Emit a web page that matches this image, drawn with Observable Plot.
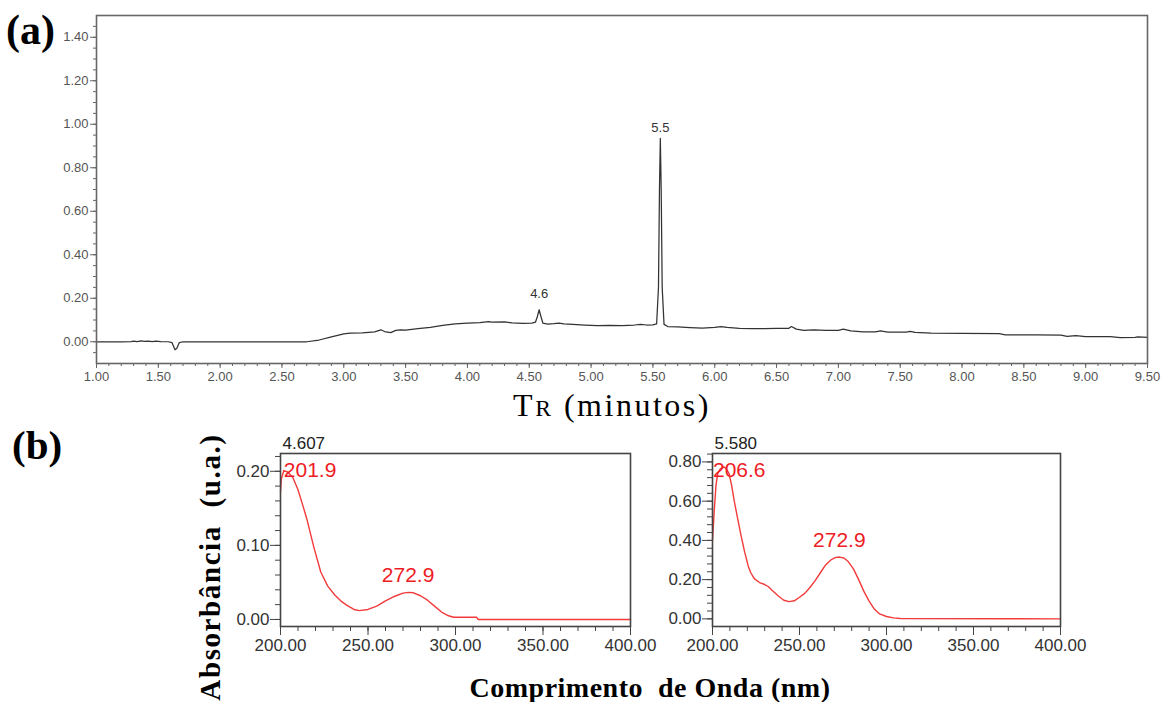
<!DOCTYPE html>
<html>
<head>
<meta charset="utf-8">
<script src="https://cdn.jsdelivr.net/npm/d3@7"></script>
<script src="https://cdn.jsdelivr.net/npm/@observablehq/plot@0.6"></script>
<style>
  body { margin: 0; background: #fff; }
  #root { position: relative; width: 1168px; height: 702px; overflow: hidden; background: #fff; }
  #root > svg, #root > figure { position: absolute; margin: 0; }
  .lbl { position: absolute; white-space: pre; color: #000; line-height: 1; }
  .serifb { font-family: "Liberation Serif", "Times New Roman", serif; font-weight: bold; }
  .serif { font-family: "Liberation Serif", "Times New Roman", serif; }
</style>
</head>
<body>
<div id="root"></div>
<script>
// ---------- Data: chromatogram (a) ----------
const chromTime = [1.00,1.20,1.28,1.30,1.33,1.36,1.39,1.42,1.45,1.48,1.52,1.58,1.61,1.635,1.65,1.67,1.70,2.00,2.40,2.70,2.80,2.90,3.00,3.05,3.15,3.25,3.30,3.33,3.38,3.42,3.46,3.50,3.60,3.70,3.80,3.90,4.00,4.10,4.17,4.20,4.30,4.36,4.45,4.52,4.55,4.565,4.58,4.595,4.61,4.65,4.70,4.74,4.78,4.85,4.95,5.05,5.15,5.25,5.35,5.40,5.45,5.50,5.53,5.545,5.553,5.560,5.567,5.575,5.59,5.62,5.70,5.80,5.90,6.00,6.05,6.10,6.20,6.30,6.40,6.50,6.60,6.62,6.66,6.72,6.80,6.90,7.00,7.04,7.10,7.20,7.30,7.34,7.40,7.55,7.58,7.62,7.75,8.00,8.30,8.35,8.60,8.80,8.85,8.92,9.00,9.20,9.28,9.40,9.42,9.50];
const chromAbs  = [0.000,0.000,0.001,0.003,0.001,0.004,0.002,0.003,0.001,0.003,0.001,0.000,-0.004,-0.037,-0.030,-0.004,0.000,0.000,0.000,0.000,0.008,0.022,0.036,0.040,0.041,0.045,0.055,0.047,0.042,0.052,0.055,0.053,0.060,0.066,0.075,0.082,0.086,0.088,0.093,0.090,0.091,0.087,0.084,0.086,0.090,0.115,0.147,0.115,0.086,0.081,0.083,0.086,0.082,0.080,0.077,0.074,0.075,0.074,0.077,0.080,0.077,0.078,0.082,0.250,0.700,0.935,0.700,0.250,0.080,0.070,0.068,0.065,0.063,0.066,0.070,0.066,0.062,0.060,0.060,0.061,0.062,0.070,0.058,0.052,0.055,0.052,0.052,0.058,0.050,0.045,0.045,0.050,0.044,0.044,0.048,0.043,0.040,0.039,0.037,0.032,0.032,0.030,0.025,0.028,0.024,0.024,0.019,0.020,0.022,0.020];
const chromPeakTimes  = [4.58, 5.56];
const chromPeakHeights = [0.147, 0.935];
const chromPeakLabels = ["4.6", "5.5"];
const chromXTicks = [1.00,1.50,2.00,2.50,3.00,3.50,4.00,4.50,5.00,5.50,6.00,6.50,7.00,7.50,8.00,8.50,9.00,9.50];
const chromYTicks = [0.00,0.20,0.40,0.60,0.80,1.00,1.20,1.40];

// ---------- Data: UV spectra (b) ----------
const spec1Title = "4.607";
const spec1Wl  = [200,200.5,201.9,204,207,210,213,215,219,223,227,231,235,238,242,245,250,255,260,265,270,273,276,280,284,288,292,296,299,305,312,313,400];
const spec1Abs = [0.172,0.190,0.201,0.199,0.192,0.175,0.152,0.136,0.098,0.064,0.045,0.033,0.024,0.019,0.0135,0.012,0.0135,0.018,0.025,0.031,0.0355,0.0365,0.036,0.032,0.026,0.018,0.010,0.005,0.003,0.003,0.003,0.000,0.000];
const spec1PeakWl = [201.9, 272.9];
const spec1PeakAbs = [0.201, 0.0365];
const spec1PeakLabels = ["201.9", "272.9"];
const spec1YTicks = [0.00, 0.10, 0.20];

const spec2Title = "5.580";
const spec2Wl  = [200,201,202,203,204.5,206.6,208,209.5,211,212.5,214.5,216.5,218.5,220.5,222,224,227,230,232,235,238,241,244,247,250,253,256,259,262,265,268,270.5,272.9,275.5,278,281,284,287,290,293,296,300,304,308,400];
const spec2Abs = [0.40,0.55,0.68,0.74,0.765,0.775,0.765,0.74,0.68,0.60,0.51,0.42,0.34,0.27,0.235,0.205,0.185,0.175,0.165,0.140,0.115,0.095,0.088,0.092,0.110,0.130,0.160,0.195,0.235,0.275,0.300,0.312,0.315,0.310,0.292,0.255,0.200,0.140,0.090,0.050,0.025,0.012,0.005,0.002,0.000];
const spec2PeakWl = [206.6, 272.9];
const spec2PeakAbs = [0.775, 0.315];
const spec2PeakLabels = ["206.6", "272.9"];
const spec2YTicks = [0.00, 0.20, 0.40, 0.60, 0.80];

const specXTicks = [200, 250, 300, 350, 400];

const root = document.getElementById("root");
const fmt2 = d3.format(".2f");

// ---------- Panel (a) ----------
const chrom = chromTime.map((t, i) => ({t, v: chromAbs[i]}));
const peaks = chromPeakTimes.map((t, i) => ({t, v: chromPeakHeights[i], label: chromPeakLabels[i]}));

const pa = Plot.plot({
  width: 1168, height: 395,
  marginLeft: 96, marginRight: 21, marginTop: 15, marginBottom: 32,
  style: {fontFamily: "'Liberation Sans', Arial, sans-serif", fontSize: "13px", color: "#555", background: "transparent"},
  x: {domain: [1.0, 9.5]},
  y: {domain: [-0.10, 1.50]},
  marks: [
    Plot.axisY(d3.range(-0.05, 1.5, 0.05), {tickSize: 3, tickFormat: () => "", label: null, stroke: "#666"}),
    Plot.axisY(chromYTicks, {tickSize: 6, tickPadding: 2, tickFormat: fmt2, label: null, stroke: "#666"}),
    Plot.axisX(d3.range(1.0, 9.55, 0.1), {tickSize: 3, tickFormat: () => "", label: null, stroke: "#666"}),
    Plot.axisX(chromXTicks, {tickSize: 5, tickPadding: 3, tickFormat: fmt2, label: null, stroke: "#666"}),
    Plot.line(chrom, {x: "t", y: "v", stroke: "#333", strokeWidth: 1.25}),
    Plot.text(peaks.slice(0, 1), {x: "t", y: "v", text: "label", dy: -16, fill: "#333", fontSize: 13}),
    Plot.text(peaks.slice(1), {x: "t", y: "v", text: "label", dy: -11, fill: "#333", fontSize: 13}),
    Plot.frame({stroke: "#666", strokeWidth: 1.6})
  ]
});
pa.style.left = "0px"; pa.style.top = "0px";
root.appendChild(pa);

// ---------- Panel (b) spectra ----------
function spectrum({wl, abs, peakWl, peakAbs, peakLabels, yTicks, yMinorStep, yDomain, title, left, marginLeft, marginRight, firstDx, firstDy}) {
  const data = wl.map((w, i) => ({w, a: abs[i]}));
  const pk = peakWl.map((w, i) => ({w, a: peakAbs[i], label: peakLabels[i]}));
  const p = Plot.plot({
    width: 480, height: 240,
    marginLeft, marginRight, marginTop: 33, marginBottom: 34,
    style: {fontFamily: "'Liberation Sans', Arial, sans-serif", fontSize: "17px", color: "#333", background: "transparent"},
    x: {domain: [200, 400]},
    y: {domain: yDomain},
    marks: [
      Plot.axisY(d3.range(0, yDomain[1], yMinorStep), {tickSize: 5, tickFormat: () => "", label: null, stroke: "#444"}),
      Plot.axisY(yTicks, {tickSize: 10, tickPadding: 1, tickFormat: fmt2, label: null, stroke: "#444"}),
      Plot.axisX(d3.range(200, 401, 10), {tickSize: 5, tickFormat: () => "", label: null, stroke: "#444"}),
      Plot.axisX(specXTicks, {tickSize: 9, tickPadding: 3, tickFormat: fmt2, label: null, stroke: "#444"}),
      Plot.line(data, {x: "w", y: "a", stroke: "#f23a3a", strokeWidth: 1.4}),
      Plot.text(pk.slice(0, 1), {x: "w", y: "a", text: "label", textAnchor: "start", dx: firstDx, dy: firstDy, fill: "#ee1c25", fontSize: 21}),
      Plot.text(pk.slice(1), {x: "w", y: "a", text: "label", dy: -17, fill: "#ee1c25", fontSize: 21}),
      Plot.text([title], {text: d => d, frameAnchor: "top-left", textAnchor: "start", lineAnchor: "middle", dx: 2, dy: -10, fill: "#222", fontSize: 17}),
      Plot.frame({stroke: "#444", strokeWidth: 1.6})
    ]
  });
  p.style.left = left + "px"; p.style.top = "420px";
  root.appendChild(p);
}

spectrum({wl: spec1Wl, abs: spec1Abs, peakWl: spec1PeakWl, peakAbs: spec1PeakAbs, peakLabels: spec1PeakLabels,
  yTicks: spec1YTicks, yMinorStep: 0.02, yDomain: [-0.0095, 0.224], title: spec1Title,
  left: 180, marginLeft: 100, marginRight: 30, firstDx: 0, firstDy: 0});
spectrum({wl: spec2Wl, abs: spec2Abs, peakWl: spec2PeakWl, peakAbs: spec2PeakAbs, peakLabels: spec2PeakLabels,
  yTicks: spec2YTicks, yMinorStep: 0.04, yDomain: [-0.039, 0.843], title: spec2Title,
  left: 620, marginLeft: 92, marginRight: 40, firstDx: -11, firstDy: 3});

// ---------- Text labels ----------
function label(html, cls, css) {
  const d = document.createElement("div");
  d.className = "lbl " + cls;
  d.innerHTML = html;
  Object.assign(d.style, css);
  root.appendChild(d);
  return d;
}
label("(a)", "serifb", {left: "6px", top: "9px", fontSize: "42px"});
label("(b)", "serifb", {left: "12px", top: "425px", fontSize: "41px"});
label("T<span style=\"font-size:0.74em\">R</span> (minutos)", "serif",
  {left: "612px", top: "405px", fontSize: "32px", letterSpacing: "2.5px", transform: "translate(-50%,-50%)"});
label("Comprimento  de Onda (nm)", "serifb",
  {left: "650px", top: "688px", fontSize: "28px", letterSpacing: "0.5px", transform: "translate(-50%,-50%)"});
label("Absorbância  (u.a.)", "serifb",
  {left: "210px", top: "567px", fontSize: "29px", letterSpacing: "1.6px", transform: "translate(-50%,-50%) rotate(-90deg)"});
</script>
</body>
</html>
